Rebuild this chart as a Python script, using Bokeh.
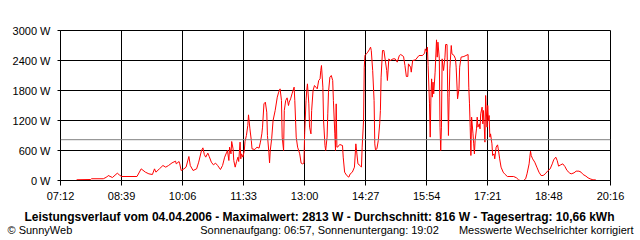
from bokeh.plotting import figure
from bokeh.models import FixedTicker, Span, Range1d
from bokeh.layouts import column
from bokeh.core.properties import value
from bokeh.embed import file_html
from bokeh.resources import INLINE

# time of day in minutes since midnight, power in W
minutes = [455, 475, 476, 493, 498, 500, 506, 513, 516, 519, 541, 547, 553, 558, 563, 566, 568, 573,
           578, 582, 586, 591, 596, 597, 601, 602, 604, 608, 611, 615, 617, 621, 626, 629, 633, 635,
           637, 639, 642, 644, 647, 650, 653, 656, 660, 663, 666, 669, 670, 672, 673, 675, 676, 678,
           679, 681, 683, 685, 686, 688, 689, 690, 692, 694, 695, 697, 699, 700, 702, 704, 705, 709,
           712, 715, 717, 719, 720, 722, 724, 726, 727, 729, 730, 731, 733, 735, 738, 741, 743, 745,
           747, 748, 750, 751, 753, 755, 757, 758, 760, 762, 765, 766, 768, 770, 773, 775, 777, 779,
           780, 782, 783, 784, 786, 787, 789, 790, 792, 794, 796, 798, 800, 802, 803, 804, 806, 807,
           809, 810, 812, 813, 814, 816, 818, 820, 821, 823, 824, 825, 826, 827, 830, 834, 835, 837,
           840, 843, 845, 848, 851, 853, 854, 856, 859, 861, 862, 864, 865, 866, 868, 870, 872, 874,
           875, 877, 879, 880, 881, 883, 885, 887, 888, 889, 891, 893, 895, 897, 898, 900, 902, 906,
           909, 912, 915, 917, 921, 923, 925, 927, 928, 931, 932, 934, 938, 943, 948, 951, 952, 954,
           955, 956, 958, 959, 960, 961, 962, 963, 964, 966, 968, 969, 970, 972, 973, 974, 975, 976,
           978, 980, 981, 983, 984, 985, 986, 987, 989, 990, 993, 995, 996, 998, 1000, 1001, 1003, 1007,
           1010, 1013, 1014, 1015, 1016, 1017, 1018, 1020, 1021, 1022, 1023, 1025, 1026, 1027, 1029, 1030,
           1031, 1033, 1034, 1035, 1037, 1038, 1040, 1041, 1042, 1043, 1044, 1045, 1047, 1048, 1050, 1051,
           1053, 1055, 1056, 1058, 1060, 1063, 1065, 1069, 1078, 1082, 1085, 1087, 1092, 1095, 1097, 1100,
           1101, 1102, 1103, 1105, 1108, 1111, 1114, 1117, 1120, 1123, 1127, 1130, 1133, 1135, 1138, 1140,
           1142, 1145, 1148, 1151, 1154, 1158, 1160, 1164, 1167, 1171, 1174, 1177, 1181, 1184, 1187, 1191,
           1195]
watts = [15, 20, 35, 35, 70, 100, 60, 146, 110, 80, 80, 233, 167, 133, 120, 233, 167, 233,
         300, 267, 300, 353, 387, 333, 380, 333, 200, 233, 267, 480, 300, 200, 233, 367, 600, 653,
         520, 467, 547, 480, 367, 313, 347, 300, 220, 300, 467, 567, 600, 400, 667, 533, 780, 633,
         400, 267, 380, 467, 380, 767, 433, 533, 467, 600, 780, 900, 1100, 1313, 1033, 800, 633, 620,
         667, 647, 767, 933, 1067, 1533, 1567, 1367, 900, 567, 353, 600, 833, 1200, 1400, 1667, 1767, 1833,
         1600, 867, 600, 1400, 1600, 1653, 1500, 1567, 1633, 1733, 1867, 1600, 867, 667, 533, 347, 333, 347,
         933, 1600, 1800, 1933, 1533, 1067, 933, 1400, 1800, 1900, 1867, 1833, 2000, 2033, 2200, 2300, 1867, 1200,
         700, 600, 867, 1333, 1767, 2067, 2100, 2000, 1600, 933, 600, 1533, 667, 667, 720, 700, 467, 167,
         100, 67, 133, 167, 267, 733, 600, 333, 300, 267, 667, 1200, 2267, 2500, 2533, 2567, 2613, 2667,
         2600, 2200, 1600, 733, 613, 633, 800, 1133, 1400, 2067, 2600, 2600, 2400, 2200, 2000, 2433, 2400, 2433,
         2433, 2367, 2500, 2520, 2480, 2300, 2080, 2080, 2333, 2267, 2167, 2400, 2413, 2500, 2500, 2547, 2633, 2567,
         2667, 2300, 1533, 867, 1667, 2033, 1667, 1967, 1733, 2167, 2813, 2467, 2767, 2433, 1067, 600, 1067, 2433,
         2200, 2467, 2720, 2720, 1733, 900, 1667, 2233, 2700, 2533, 2500, 2433, 2267, 1633, 1833, 2267, 2467, 2480,
         2500, 2520, 1867, 1533, 1067, 500, 1267, 933, 733, 533, 800, 1033, 1267, 1067, 1133, 1033,
         1333, 1467, 1133, 1400, 767, 1700, 1067, 1500, 1200, 1300, 867, 933, 733, 500, 533, 433,
         667, 713, 633, 433, 267, 167, 133, 80, 80, 53, 13, 0, 0, 33, 133, 333,
         467, 587, 500, 433, 367, 267, 167, 100, 100, 133, 200, 233, 333, 413, 467, 400,
         287, 313, 333, 280, 200, 147, 133, 153, 187, 187, 167, 120, 87, 53, 33, 13,
         13]

x_ticks = [432, 519, 606, 693, 780, 867, 954, 1041, 1128, 1216]
x_labels = ["07:12", "08:39", "10:06", "11:33", "13:00", "14:27", "15:54", "17:21", "18:48", "20:16"]
y_ticks = [0, 600, 1200, 1800, 2400, 3000]
y_labels = ["0 W", "600 W", "1200 W", "1800 W", "2400 W", "3000 W"]
average = 816

title_text = "Leistungsverlauf vom 04.04.2006 - Maximalwert: 2813 W - Durchschnitt: 816 W - Tagesertrag: 10,66 kWh"
copyright_text = "\u00a9 SunnyWeb"
sun_text = "Sonnenaufgang: 06:57, Sonnenuntergang: 19:02"
note_text = "Messwerte Wechselrichter korrigiert"

FONT = "Liberation Sans"

p = figure(width=640, height=210, output_backend="svg", toolbar_location=None,
           x_range=(x_ticks[0], x_ticks[-1]), y_range=(0, 3000),
           min_border_left=60, min_border_right=30, min_border_top=30, min_border_bottom=30,
           background_fill_color="white", border_fill_color="white", frame_align=False)
p.outline_line_color = "black"
p.outline_line_width = 1

p.xaxis.ticker = FixedTicker(ticks=x_ticks)
p.xaxis.major_label_overrides = {t: l for t, l in zip(x_ticks, x_labels)}
p.yaxis.ticker = FixedTicker(ticks=y_ticks)
p.yaxis.major_label_overrides = {t: l for t, l in zip(y_ticks, y_labels)}
for ax in (p.xaxis, p.yaxis):
    ax.axis_line_color = "black"
    ax.major_tick_line_color = "black"
    ax.major_tick_in = 0
    ax.minor_tick_line_color = None
    ax.major_label_text_font = FONT
    ax.major_label_text_font_size = "11px"
    ax.major_label_text_color = "black"
p.xaxis.major_tick_out = 5
p.xaxis.major_label_standoff = 4
p.yaxis.major_tick_out = 3
p.yaxis.major_label_standoff = 7

p.xgrid.ticker = FixedTicker(ticks=x_ticks)
p.ygrid.ticker = FixedTicker(ticks=y_ticks)
p.grid.grid_line_color = "black"
p.grid.grid_line_width = 1
p.grid.grid_line_alpha = 1

p.add_layout(Span(location=average, dimension="width", line_color="#808080", line_width=1))
p.line(minutes, watts, line_color="#ff0000", line_width=1)

# footer strip (pixel-like coordinates, y grows downward)
f = figure(width=640, height=30, output_backend="svg", toolbar_location=None,
           x_range=Range1d(0, 640), y_range=Range1d(30, 0), min_border=0,
           background_fill_color="white", border_fill_color="white", frame_align=False)
f.axis.visible = False
f.grid.visible = False
f.outline_line_color = None

f.text(x=[319], y=[6], text=[title_text], text_align="center", text_baseline="middle",
       text_font=value(FONT), text_font_size="12px", text_font_style="bold", text_color="black")
f.text(x=[7], y=[19], text=[copyright_text], text_align="left", text_baseline="middle",
       text_font=value(FONT), text_font_size="11px", text_color="black")
f.text(x=[319], y=[19], text=[sun_text], text_align="center", text_baseline="middle",
       text_font=value(FONT), text_font_size="11px", text_color="black")
f.text(x=[633], y=[19], text=[note_text], text_align="right", text_baseline="middle",
       text_font=value(FONT), text_font_size="11px", text_color="black")

layout = column(p, f, spacing=0)
open("out.html", "w").write(file_html(layout, INLINE))
